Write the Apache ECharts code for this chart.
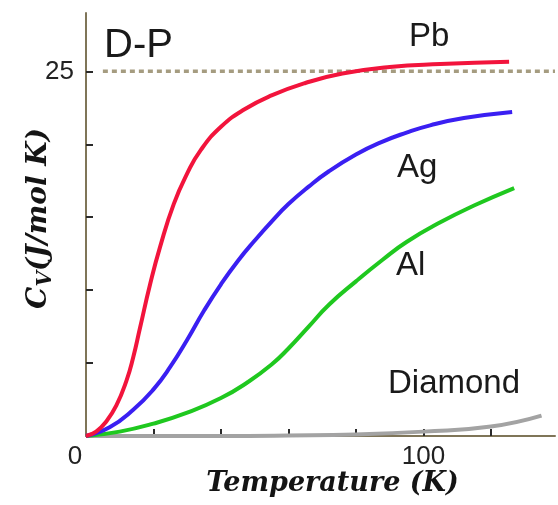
<!DOCTYPE html>
<html>
<head>
<meta charset="utf-8">
<script src="https://cdn.jsdelivr.net/npm/echarts@6/dist/echarts.min.js"></script>
<style>
html,body{margin:0;padding:0;background:#fff;}
#chart{width:558px;height:505px;}
</style>
</head>
<body>
<div id="chart"></div>
<script>
// Temperature (K) / Cv (J/mol K) pairs
const pbData = [[0,0],[3,0.3],[6,1.0],[9,2.1],[12,3.8],[14,5.4],[16,7.4],[19,10.4],[22,13.0],[26,15.9],[30,18.0],[34,19.6],[40,21.2],[47,22.4],[55,23.35],[65,24.2],[76,24.85],[90,25.3],[105,25.5],[125.4,25.65]];
const agData = [[0,0],[7,0.6],[14,1.8],[20,3.2],[25,4.75],[30,6.6],[35,8.6],[40,10.4],[45,12.0],[50,13.4],[55,14.7],[60,15.9],[66,17.1],[72,18.15],[80,19.3],[87,20.1],[95,20.8],[102,21.3],[112,21.8],[126.3,22.22]];
const alData = [[0,0],[10,0.3],[20,0.85],[30,1.6],[40,2.6],[48,3.7],[55,4.9],[60,6.0],[66,7.5],[72,9.0],[80,10.6],[88,12.1],[95,13.3],[105,14.65],[115,15.8],[126.9,17.0]];
const diamondData = [[0,0],[40,0],[60,0.03],[80,0.1],[100,0.3],[120,0.65],[135,1.4]];
const dulongPetit = [[5,25],[139,25]];
const xTicks = [20,40,60,80,100,120];
const xTickLabels = [0,100];
const yTicks = [5,10,15,20,25];
const yTickLabels = [25];
const seriesNames = ['Pb','Ag','Al','Diamond'];

const chart = echarts.init(document.getElementById('chart'), null, {renderer:'canvas'});
const axisColor = '#7f7558';
const labelFont = {fontFamily:'Liberation Sans, Arial, sans-serif', fontSize:33, fill:'#1a1a1a'};
const nameStyle = {fontFamily:'DejaVu Serif, serif', fontStyle:'italic', fontWeight:'bold', color:'#141414'};

function line(name, data, color, w){
  return {name:name, type:'line', data:data, smooth:0.5, showSymbol:false, symbol:'none',
    lineStyle:{color:color, width:w}, silent:true, z:3};
}

chart.setOption({
  animation:false,
  backgroundColor:'#fff',
  grid:{left:86, right:3, top:13, bottom:69, containLabel:false},
  xAxis:{type:'value', min:0, max:139, interval:20,
    axisLine:{show:true, lineStyle:{color:axisColor, width:2}},
    axisTick:{show:true, inside:true, length:7, lineStyle:{color:'#2a2a2a', width:2}, customValues:xTicks},
    axisLabel:{show:true, customValues:xTickLabels, margin:8, color:'#222', fontSize:26, fontFamily:'Liberation Sans, Arial, sans-serif',
      formatter:function(v){ return v===0 ? '{z|0}' : String(v); },
      rich:{z:{fontSize:26, fontFamily:'Liberation Sans, Arial, sans-serif', color:'#222', padding:[0,22,0,0]}}},
    splitLine:{show:false},
    name:'Temperature (K)', nameLocation:'middle', nameGap:34, nameMoveOverlap:false,
    nameTextStyle:Object.assign({fontSize:27, padding:[0,0,0,24]}, nameStyle)
  },
  yAxis:{type:'value', min:0, max:29, interval:5,
    axisLine:{show:true, lineStyle:{color:axisColor, width:2}},
    axisTick:{show:true, inside:true, length:7, lineStyle:{color:'#2a2a2a', width:2}, customValues:yTicks},
    axisLabel:{show:true, customValues:yTickLabels, margin:12, color:'#222', fontSize:26, fontFamily:'Liberation Sans, Arial, sans-serif'},
    splitLine:{show:false},
    name:'{c|C}{v|V}{c|(J/mol K)}', nameLocation:'middle', nameGap:30, nameMoveOverlap:false,
    nameTextStyle:{padding:[0,0,0,12], rich:{
      c:Object.assign({fontSize:28, lineHeight:34}, nameStyle),
      v:Object.assign({fontSize:20, lineHeight:20, verticalAlign:'bottom'}, nameStyle)
    }}
  },
  series:[
    {name:'Dulong-Petit', type:'line', data:dulongPetit, showSymbol:false, symbol:'none', silent:true, z:2,
      lineStyle:{color:'#a59c80', width:3.5, type:[5,4]}},
    line(seriesNames[3], diamondData, '#a3a3a3', 4),
    line(seriesNames[2], alData, '#1fc81f', 4),
    line(seriesNames[1], agData, '#3a1ff2', 4),
    line(seriesNames[0], pbData, '#f2143c', 4)
  ],
  graphic:[
    {type:'text', left:104, top:26, style:Object.assign({}, labelFont, {text:'D-P', fontSize:40})},
    {type:'text', left:409, top:20, style:Object.assign({}, labelFont, {text:seriesNames[0]})},
    {type:'text', left:397, top:151, style:Object.assign({}, labelFont, {text:seriesNames[1]})},
    {type:'text', left:396, top:249, style:Object.assign({}, labelFont, {text:seriesNames[2]})},
    {type:'text', left:388, top:367, style:Object.assign({}, labelFont, {text:seriesNames[3]})}
  ]
});
</script>
</body>
</html>
